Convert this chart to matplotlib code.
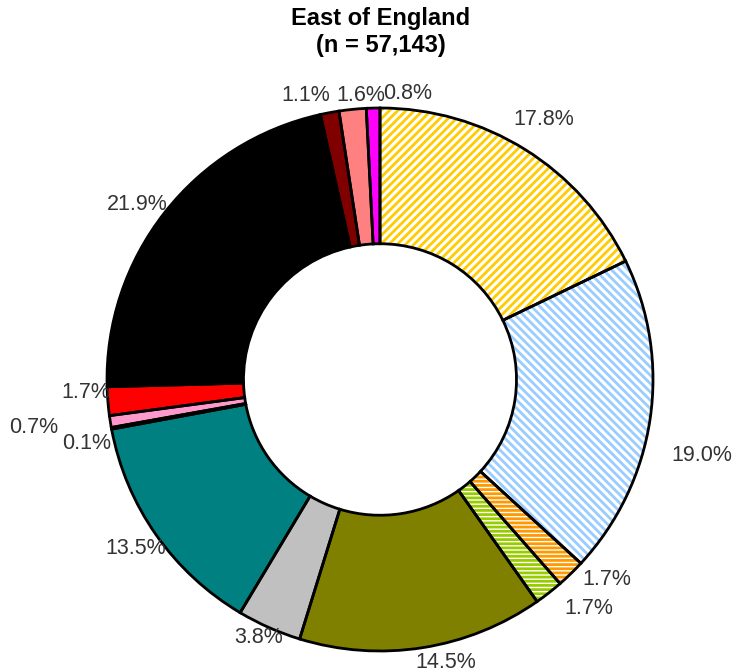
import numpy as np
import matplotlib.pyplot as plt

plt.rcParams['font.family'] = ['Liberation Sans', 'DejaVu Sans']
plt.rcParams['hatch.linewidth'] = 2.0

shares = [17.8, 19.0, 1.7, 1.7, 14.5, 3.8, 13.5, 0.1, 0.7, 1.7, 21.9, 1.1, 1.6, 0.8]
labels = ['17.8%', '19.0%', '1.7%', '1.7%', '14.5%', '3.8%', '13.5%',
          '0.1%', '0.7%', '1.7%', '21.9%', '1.1%', '1.6%', '0.8%']
colors = ['white', 'white', 'white', 'white', '#808000', '#c0c0c0', '#008080',
          '#000000', '#ff99cc', '#ff0000', '#000000', '#800000', '#ff8080', '#ff00ff']
hatch_colors = ['#ffcc00', '#99ccff', '#ff9900', '#99cc00', None, None, None,
                None, None, None, None, None, None, None]
hatches = ['////', '\\\\\\\\', '----', '----', None, None, None,
           None, None, None, None, None, None, None]

# label nudges: (distance, angle shift in degrees)
label_pos = [(1.13, 0), (1.21, -5), (1.11, 4), (1.14, 4), (1.07, 4), (1.05, -1), (1.09, 0),
             (1.10, 2), (1.28, -1), (1.08, -2), (1.10, 2), (1.08, 4), (1.05, -2), (1.06, -7)]

fig = plt.figure(figsize=(7.37, 6.72), dpi=100)
ax = fig.add_axes([107 / 737, (672 - 651) / 672, 546 / 737, 543 / 672])

wedges, _ = ax.pie(shares, colors=colors, startangle=90, counterclock=False,
                   radius=1, wedgeprops=dict(width=0.5, linewidth=0))
for w, h, hc in zip(wedges, hatches, hatch_colors):
    if h:
        w.set_hatch(h)
        w.set_edgecolor(hc)

outline, _ = ax.pie(shares, startangle=90, counterclock=False, radius=1,
                    wedgeprops=dict(width=0.5, fill=False, edgecolor='black', linewidth=2))

for w, lab, (dist, shift) in zip(outline, labels, label_pos):
    ang = np.deg2rad((w.theta1 + w.theta2) / 2 + shift)
    ax.text(dist * np.cos(ang), dist * np.sin(ang), lab, ha='center', va='center',
            fontsize=15.5, color='#333333')

ax.set_aspect('auto')
ax.set_xlim(-1, 1)
ax.set_ylim(-1, 1)

fig.text(0.517, 0.972, 'East of England', ha='center', va='center',
         fontsize=17, fontweight='bold')
fig.text(0.517, 0.932, '(n = 57,143)', ha='center', va='center',
         fontsize=17, fontweight='bold')

fig.savefig('out.png', dpi=100)
